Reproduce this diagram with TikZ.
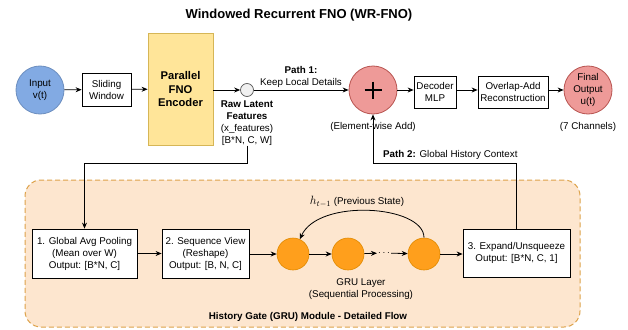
\documentclass[tikz,border=0pt]{standalone}
\usepackage{fontspec}
\setmainfont{Liberation Sans}
\usetikzlibrary{arrows.meta}
\definecolor{blueF}{HTML}{82AAE3}
\definecolor{blueD}{HTML}{6C8EBF}
\definecolor{yelF}{HTML}{FFE599}
\definecolor{yelD}{HTML}{D6B656}
\definecolor{redF}{HTML}{EE9A98}
\definecolor{redD}{HTML}{B85450}
\definecolor{orgF}{HTML}{FF9F1C}
\definecolor{orgD}{HTML}{E08A00}
\definecolor{regF}{HTML}{FDE6CF}
\definecolor{regD}{HTML}{DDA24A}
\begin{document}
\begin{tikzpicture}[x=1pt,y=-1pt,
  font=\fontsize{9.8}{12}\selectfont,
  box/.style={draw=black, line width=0.8pt, fill=white, inner sep=0pt, align=center},
  bigcirc/.style={circle, line width=0.8pt, minimum size=48pt, inner sep=0pt, align=center},
  grucirc/.style={circle, fill=orgF, draw=orgD, line width=0.6pt, minimum size=32pt, inner sep=0pt},
  arr/.style={-{Stealth[length=6pt,width=5pt]}, line width=0.8pt},
  lnk/.style={line width=0.8pt}]
\useasboundingbox (0,0) rectangle (628,329);
\fill[white] (0,0) rectangle (628,329);

% region
\node[draw=regD, fill=regF, dashed, dash pattern=on 5pt off 3pt, line width=1pt,
  rounded corners=16pt, minimum width=555pt, minimum height=147pt, inner sep=0pt] (gate) at (302.5,253.5) {};
\node[font=\fontsize{9.8}{12}\selectfont\bfseries] (gatelbl) at (308,317) {History Gate (GRU) Module - Detailed Flow};

% title
\node[font=\fontsize{13}{15}\selectfont\bfseries] (title) at (299,15) {Windowed Recurrent FNO (WR-FNO)};

% main row
\node[bigcirc, fill=blueF, draw=blueD] (inp) at (40,90) {Input\\v(t)};
\node[box, minimum width=49pt, minimum height=33pt] (slide) at (106.5,89.5) {Sliding\\Window};
\node[box, fill=yelF, draw=yelD, minimum width=65pt, minimum height=112pt,
  font=\fontsize{11.2}{13.5}\selectfont\bfseries] (fno) at (180.5,89) {Parallel\\FNO\\Encoder};
\node[circle, fill=gray!12, draw=gray!70!black, line width=0.7pt, minimum size=13pt, inner sep=0pt] (junc) at (247,90) {};
\node[anchor=north, align=center, inner sep=0pt] (raw) at (247,100.5)
  {\textbf{Raw Latent}\\\textbf{Features}\\(x\_features)\\{[B*N, C, W]}};
\node[align=center, inner sep=0pt] (p1) at (301,76.5) {\textbf{Path 1:}\\Keep Local Details};
\node[bigcirc, fill=redF, draw=redD] (plus) at (373,90) {};
\draw[line width=2.4pt] (364.5,90) -- (381.5,90) (373,81.5) -- (373,98.5);
\node[inner sep=0pt] (addlbl) at (373,127) {(Element-wise Add)};
\node[box, minimum width=42pt, minimum height=32pt] (dec) at (435,92) {Decoder\\MLP};
\node[box, minimum width=70pt, minimum height=32pt] (ola) at (513,92) {Overlap-Add\\Reconstruction};
\node[bigcirc, fill=redF, draw=redD] (out) at (588,90) {Final\\Output\\u(t)};
\node[inner sep=0pt] (outlbl) at (588,127) {(7 Channels)};

\draw[arr] (inp) -- (slide);
\draw[arr] (slide) -- (fno);
\draw[arr] (fno.east |- junc) -- (junc);
\draw[arr] (junc) -- (plus);
\draw[arr] (plus) -- (dec.west |- plus);
\draw[arr] (dec.east |- plus) -- (ola.west |- plus);
\draw[arr] (ola.east |- plus) -- (out);

% bottom row
\node[box, minimum width=105pt, minimum height=49pt] (pool) at (84.5,253.5)
  {1. Global Avg Pooling\\(Mean over W)\\Output: [B*N, C]};
\node[box, minimum width=87pt, minimum height=49pt] (seq) at (205.5,253.5)
  {2. Sequence View\\(Reshape)\\Output: [B, N, C]};
\node[grucirc] (g1) at (293,254) {};
\node[grucirc] (g2) at (348,254) {};
\node[inner sep=1pt] (dots) at (384,253) {$\cdots$};
\node[grucirc] (g3) at (424,254) {};
\node[box, minimum width=107pt, minimum height=48pt] (exp) at (516.5,253)
  {3. Expand/Unsqueeze\\Output: [B*N, C, 1]};
\node[align=center, inner sep=0pt] (grulbl) at (361,289) {GRU Layer\\(Sequential Processing)};
\node[inner sep=0pt] (hlbl) at (357,202) {{\fontsize{12}{14}\selectfont$h_{t-1}$} (Previous State)};

\draw[arr] (pool) -- (seq);
\draw[arr] (seq.east |- g1) -- (g1);
\draw[arr] (g1) -- (g2);
\draw[arr] (g2) -- (dots);
\draw[arr] (dots) -- (g3);
\draw[arr] (g3) -- (exp.west |- g3);
\draw[arr] (g3.north) .. controls (424,205) and (318,198) .. (g1.65);

% paths between rows
\coordinate (bendA) at (247,163);
\coordinate (bendB) at (84.5,163);
\coordinate (bendC) at (516.5,163);
\coordinate (bendD) at (373,163);
\draw[arr] (raw.south) -- (bendA) -- (bendB) -- (pool.north);
\draw[arr] (exp.north) -- (bendC) -- (bendD) -- (plus.south);
\node[anchor=west, inner sep=0pt] (p2) at (383,155) {\textbf{Path 2:} Global History Context};
\end{tikzpicture}
\end{document}
